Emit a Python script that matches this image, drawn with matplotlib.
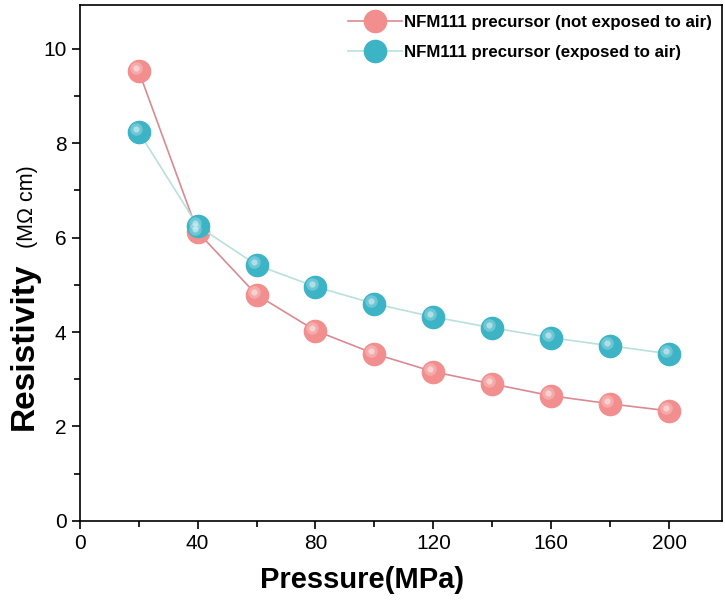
import matplotlib
matplotlib.use("Agg")
import matplotlib.pyplot as plt
import matplotlib.transforms as mtransforms

plt.rcParams['font.family'] = ['Liberation Sans', 'DejaVu Sans']

pressure = [20, 40, 60, 80, 100, 120, 140, 160, 180, 200]
not_exposed = [9.53, 6.12, 4.79, 4.03, 3.54, 3.16, 2.90, 2.65, 2.48, 2.33]
exposed = [8.24, 6.25, 5.42, 4.96, 4.60, 4.32, 4.09, 3.88, 3.71, 3.54]
labels = ["NFM111 precursor (not exposed to air)", "NFM111 precursor (exposed to air)"]

fig = plt.figure(figsize=(7.25, 6.05), dpi=100)
ax = fig.add_axes([0.110, 0.139, 0.886, 0.853])

series = [
    (not_exposed, "#f28e8e", "#d98a92", labels[0]),
    (exposed, "#3db4c6", "#b9e0da", labels[1]),
]
hl = mtransforms.offset_copy(ax.transData, fig=fig, x=-3, y=3, units="dots")
for vals, mc, lc, lab in series:
    ax.plot(pressure, vals, color=lc, lw=1.2, marker="o", ms=16,
            mfc=mc, mec=mc, label=lab, zorder=3)
    # fake sphere shading
    ax.plot(pressure, vals, ls="none", marker="o", ms=9, mfc="white",
            mec="none", alpha=0.25, transform=hl, zorder=4)
    ax.plot(pressure, vals, ls="none", marker="o", ms=4.5, mfc="white",
            mec="none", alpha=0.45, transform=hl, zorder=5)

ax.set_xlim(0, 218)
ax.set_ylim(0, 10.93)
ax.set_xticks([0, 40, 80, 120, 160, 200])
ax.set_xticks(range(20, 220, 40), minor=True)
ax.set_yticks([0, 2, 4, 6, 8, 10])
ax.set_yticks([1, 3, 5, 7, 9], minor=True)
ax.tick_params(axis="both", which="major", labelsize=15, length=6, width=1.2, direction="out")
ax.tick_params(axis="both", which="minor", length=4, width=1.2, direction="out")
for s in ax.spines.values():
    s.set_linewidth(1.2)

fig.text(0.5, 0.041, "Pressure(MPa)", fontsize=21, fontweight="bold",
         ha="center", va="center")
fig.text(0.034, 0.428, "Resistivity", rotation=90, fontsize=24, fontweight="bold",
         ha="center", va="center")
fig.text(0.038, 0.658, "(M\u03a9 cm)", rotation=90, fontsize=15.5,
         ha="center", va="center")

ax.legend(loc="upper right", frameon=False, prop={"weight": "bold", "size": 12.2},
          handlelength=3.2, handletextpad=0.1, borderaxespad=0.2, labelspacing=0.9)

fig.savefig("out.png", dpi=100)
